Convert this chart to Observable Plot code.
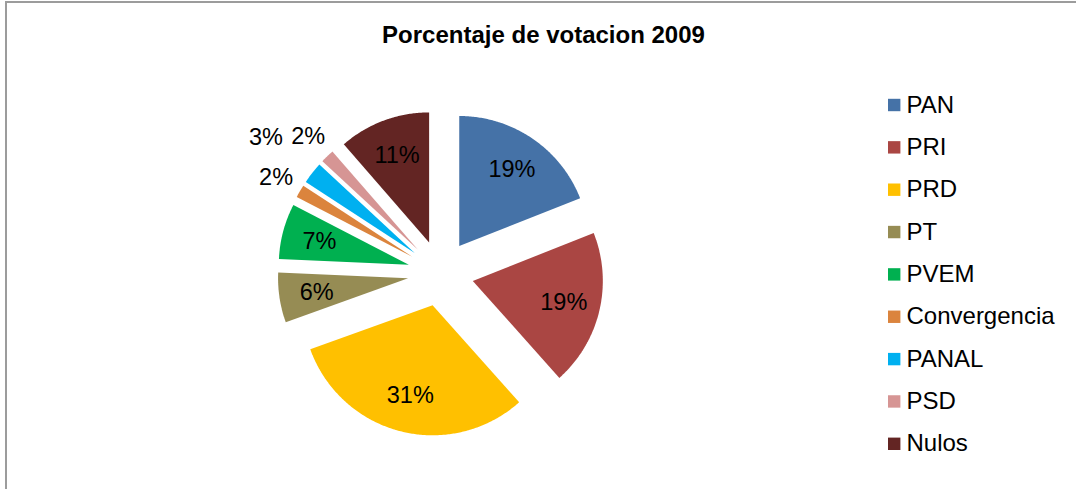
<!DOCTYPE html>
<html><head><meta charset="utf-8">
<script src="https://cdn.jsdelivr.net/npm/d3@7"></script>
<script src="https://cdn.jsdelivr.net/npm/@observablehq/plot@0.6"></script>
<style>
html,body{margin:0;padding:0;background:#fff;}
#wrap{position:relative;width:1076px;height:489px;overflow:hidden;}
#chart{position:absolute;left:0;top:0;}
#frame{position:absolute;left:5px;top:1px;width:1200px;height:600px;border-left:2px solid #9c9c9c;border-top:2px solid #9c9c9c;pointer-events:none;}
</style></head><body>
<div id="wrap"><div id="chart"></div><div id="frame"></div></div>
<script>
// ---- data ----
const parties = ["PAN", "PRI", "PRD", "PT", "PVEM", "Convergencia", "PANAL", "PSD", "Nulos"];
const shares  = [19.0, 19.4, 31.1, 6.2, 6.9, 1.6, 2.7, 1.7, 11.4];
const colors  = ["#4572A7", "#AA4643", "#FFC000", "#968C54", "#00B050", "#DB843D", "#00B0F0", "#D69594", "#632523"];
const title = "Porcentaje de votacion 2009";

// ---- layout ----
const W = 1076, H = 489, R = 130, CX = 440.7, CY = 273.3, EXPLODE = 33 / R;
const FONT = "Liberation Sans, Arial, Helvetica, sans-serif";

const arcs = d3.pie().sort(null).value(d => d)(shares);
const slicePts = [];
const labels = [];
let outsideCount = 0;
arcs.forEach((a, i) => {
  const mid = (a.startAngle + a.endAngle) / 2;
  const ox = EXPLODE * Math.sin(mid), oy = EXPLODE * Math.cos(mid);
  const n = Math.max(8, Math.ceil((a.endAngle - a.startAngle) / 0.01));
  for (let k = 0; k <= n; k++) {
    const t = a.startAngle + (a.endAngle - a.startAngle) * k / n;
    slicePts.push({party: parties[i], x1: ox + Math.sin(t), y1: oy + Math.cos(t), x2: ox, y2: oy});
  }
  let r;
  if (shares[i] >= 5) r = EXPLODE + 0.715;
  else { r = (outsideCount % 2) ? 1.71 : 1.47; outsideCount++; }
  labels.push({x: r * Math.sin(mid), y: r * Math.cos(mid), text: Math.round(shares[i]) + "%"});
});

const legend = parties.map((p, i) => ({
  party: p,
  y: (CY - (104.5 + i * 42.35)) / R
}));
const legSqX = (893.7 - CX) / R, legTxtX = (906 - CX) / R;

const chart = Plot.plot({
  width: W, height: H, margin: 0,
  x: {domain: [-CX / R, (W - CX) / R], axis: null},
  y: {domain: [(CY - H) / R, CY / R], axis: null},
  color: {domain: parties, range: colors},
  style: {fontFamily: FONT, background: "transparent", color: "black"},
  marks: [
    Plot.area(slicePts, {x1: "x1", y1: "y1", x2: "x2", y2: "y2", z: "party", fill: "party", curve: "linear"}),
    Plot.text(labels, {x: "x", y: "y", text: "text", fontSize: 23.5, fill: "black"}),
    Plot.text([title], {frameAnchor: "top", dx: 5, dy: 35, lineAnchor: "middle", fontSize: 24, fontWeight: "bold", fill: "black"}),
    Plot.dot(legend, {x: () => legSqX, y: "y", symbol: "square", r: 7, fill: "party"}),
    Plot.text(legend, {x: () => legTxtX, y: "y", text: "party", textAnchor: "start", fontSize: 24, fill: "black"})
  ]
});
document.getElementById("chart").appendChild(chart);
</script>
</body></html>
